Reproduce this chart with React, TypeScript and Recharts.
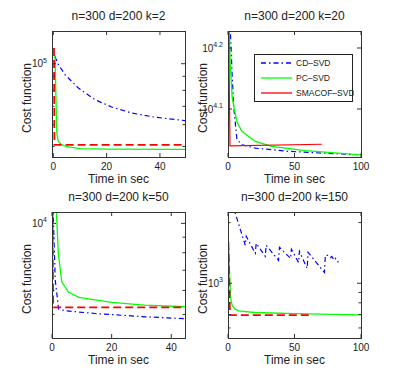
import { LineChart, Line, XAxis, YAxis } from "recharts";

const FONT = "'Liberation Sans', Arial, Helvetica, sans-serif";
const BLUE = "#0000ff";
const GREEN = "#00ff00";
const RED = "#ff0000";

// n=300 d=200 k=2
const k2CdTime = [0.6, 1.0, 1.9, 4.4, 9.4, 15.6, 21.9, 29.4, 38.1, 49.4];
const k2CdCost = [106400, 104000, 99200, 91200, 81600, 74000, 69600, 66200, 63900, 62100];
const k2PcTime = [0.6, 1.3, 1.8, 3, 5, 10, 20, 49.4];
const k2PcCost = [107800, 56000, 52300, 50900, 49900, 49100, 48900, 48800];
const k2SmTime = [0.25, 0.4, 49.4];
const k2SmCost = [114000, 50700, 50700];

// n=300 d=200 k=20
const k20CdTime = [1.5, 3.0, 4.3, 6.7, 10.5, 20.5, 45.5, 70.5, 100];
const k20CdCost = [17500, 14500, 12700, 11220, 11000, 10860, 10730, 10660, 10590];
const k20PcTime = [0.8, 1.6, 3.2, 6.7, 10.5, 20.5, 33, 58, 100];
const k20PcCost = [17500, 15000, 13100, 12000, 11570, 11140, 10930, 10760, 10590];
const k20SmTime = [0.4, 1.5, 70.5];
const k20SmCost = [17500, 10950, 11020];

// n=300 d=200 k=50
const k50CdTime = [0.3, 1.1, 1.7, 2.2, 4.5, 14.5, 31.3, 44.6];
const k50CdCost = [11500, 6470, 5770, 5210, 5140, 5035, 4910, 4840];
const k50PcTime = [1.3, 2.1, 2.8, 3.3, 5.5, 9, 20, 31, 44.6];
const k50PcCost = [12000, 8000, 7000, 6400, 5930, 5690, 5480, 5370, 5300];
const k50SmTime = [0.1, 0.4, 44.6];
const k50SmCost = [12000, 5275, 5275];

// n=300 d=200 k=150
const k150CdTime = [3.5, 13, 13.7, 20.5, 21.2, 28, 28.7, 38, 38.7, 47, 47.7, 53, 53.7, 59.5, 60.2, 72.5, 73.2, 75, 77, 78, 80, 81, 83];
const k150CdCost = [2446, 1544, 1712, 1408, 1579, 1360, 1544, 1299, 1508, 1329, 1474, 1269, 1440, 1184, 1424, 1131, 1376, 1376, 1340, 1360, 1300, 1330, 1269];
const k150PcTime = [0.5, 1.2, 2, 3.2, 5, 8, 20, 50, 100];
const k150PcCost = [1491, 1093, 838, 774, 747, 730, 716, 706, 697];
const k150SmTime = [0.3, 1.5, 62];
const k150SmCost = [1603, 695, 695];

const legendNames = ["CD\u2013SVD", "PC\u2013SVD", "SMACOF\u2013SVD"];

const YW = 50;
const XH = 30;
const MT = 5;
const MR = 20;
const PW = 133;
const PH = 126;
const AXIS = "#333";

type Pt = { t: number; v: number };
type Series = { data: Pt[]; color: string; width: number; dash?: string };
type Major = { value: number; exp: string };

const pts = (t: number[], v: number[]): Pt[] => t.map((x, i) => ({ t: x, v: v[i] }));

const cd = (t: number[], v: number[]): Series => ({ data: pts(t, v), color: BLUE, width: 1.2, dash: "5 3 1.5 3" });
const pc = (t: number[], v: number[]): Series => ({ data: pts(t, v), color: GREEN, width: 1.3 });
const smDashed = (t: number[], v: number[]): Series => ({ data: pts(t, v), color: RED, width: 1.8, dash: "8 4" });
const smSolid = (t: number[], v: number[]): Series => ({ data: pts(t, v), color: RED, width: 1.2 });

interface PanelProps {
  left: number;
  top: number;
  title: string;
  xDomain: [number, number];
  xTicks: number[];
  yDomain: [number, number];
  yMajor: Major[];
  yMinor: number[];
  series: Series[];
}

const textStyle = {
  position: "absolute" as const,
  height: 14,
  lineHeight: "14px",
  textAlign: "center" as const,
  fontFamily: FONT,
  fontSize: 12,
  color: "#222",
  whiteSpace: "nowrap" as const,
};

const Panel = ({ left, top, title, xDomain, xTicks, yDomain, yMajor, yMinor, series }: PanelProps) => {
  const yTicks = [...yMajor.map((m) => m.value), ...yMinor];

  const yTick = (p: any) => {
    const v = p.payload.value;
    const y = p.y;
    const major = yMajor.find((m) => Math.abs(m.value - v) < 1e-6 * v);
    const len = major ? 4 : 2.5;
    return (
      <g>
        <line x1={YW} x2={YW + len} y1={y} y2={y} stroke={AXIS} />
        <line x1={YW + PW - len} x2={YW + PW} y1={y} y2={y} stroke={AXIS} />
        {major && (
          <text x={YW - 5} y={y + 3.5} textAnchor="end" fontSize={10} fontFamily={FONT} fill="#222">
            10
            <tspan dy={-4.5} fontSize={7}>
              {major.exp}
            </tspan>
          </text>
        )}
      </g>
    );
  };

  const xTick = (p: any) => {
    const x = p.x;
    return (
      <g>
        <line x1={x} x2={x} y1={MT + PH} y2={MT + PH - 4} stroke={AXIS} />
        <line x1={x} x2={x} y1={MT} y2={MT + 4} stroke={AXIS} />
        <text x={x} y={MT + PH + 13} textAnchor="middle" fontSize={10} fontFamily={FONT} fill="#222">
          {p.payload.value}
        </text>
      </g>
    );
  };

  return (
    <>
      <div style={{ ...textStyle, left, top: top - 22, width: PW }}>{title}</div>
      <div style={{ ...textStyle, left: left - 25 - 60, top: top + PH / 2 + 4 - 7, width: 120, transform: "rotate(-90deg)" }}>
        Cost function
      </div>
      <div style={{ ...textStyle, left, top: top + PH + 15, width: PW }}>Time in sec</div>
      <div style={{ position: "absolute", left: left - YW, top: top - MT }}>
        <LineChart width={YW + PW + MR} height={MT + PH + XH} margin={{ top: MT, right: MR, bottom: 0, left: 0 }}>
          <XAxis
            dataKey="t"
            type="number"
            domain={xDomain}
            allowDataOverflow
            ticks={xTicks}
            interval={0}
            tick={xTick}
            tickLine={false}
            axisLine={false}
            height={XH}
          />
          <YAxis
            type="number"
            scale="log"
            domain={yDomain}
            allowDataOverflow
            ticks={yTicks}
            interval={0}
            tick={yTick}
            tickLine={false}
            axisLine={false}
            width={YW}
          />
          {series.map((s, i) => (
            <Line
              key={i}
              data={s.data}
              dataKey="v"
              type="linear"
              stroke={s.color}
              strokeWidth={s.width}
              strokeDasharray={s.dash}
              dot={false}
              activeDot={false}
              isAnimationActive={false}
            />
          ))}
        </LineChart>
      </div>
      <div
        style={{
          position: "absolute",
          left: left - 0.5,
          top: top - 0.5,
          width: PW + 1,
          height: PH + 1,
          border: `1px solid ${AXIS}`,
          boxSizing: "border-box",
          pointerEvents: "none",
        }}
      />
    </>
  );
};

const LegendBox = () => {
  const styles = [
    { color: BLUE, dash: "5 3 1.5 3" },
    { color: GREEN, dash: undefined },
    { color: RED, dash: undefined },
  ];
  return (
    <svg style={{ position: "absolute", left: 254, top: 54 }} width={100} height={49}>
      <rect x={0.5} y={0.5} width={98} height={47} fill="#fff" stroke="#222" />
      {legendNames.map((name, i) => {
        const y = 9 + i * 15;
        return (
          <g key={name}>
            <line x1={7} x2={38} y1={y} y2={y} stroke={styles[i].color} strokeWidth={1.3} strokeDasharray={styles[i].dash} />
            <text x={42} y={y + 3} fontSize={8.5} fontFamily={FONT} fill="#222">
              {name}
            </text>
          </g>
        );
      })}
    </svg>
  );
};

const App = () => {
  return (
    <div style={{ position: "absolute", left: 0, top: 0, width: 399, height: 381, background: "#fff", overflow: "hidden" }}>
      <Panel
        left={52}
        top={31}
        title="n=300 d=200 k=2"
        xDomain={[-0.5, 49.4]}
        xTicks={[0, 20, 40]}
        yDomain={[45790, 131500]}
        yMajor={[{ value: 100000, exp: "5" }]}
        yMinor={[90000, 80000, 70000, 60000, 50000]}
        series={[cd(k2CdTime, k2CdCost), pc(k2PcTime, k2PcCost), smDashed(k2SmTime, k2SmCost)]}
      />
      <Panel
        left={228}
        top={31}
        title="n=300 d=200 k=20"
        xDomain={[0, 100]}
        xTicks={[0, 50, 100]}
        yDomain={[10503, 16900]}
        yMajor={[
          { value: 12589.254, exp: "4.1" },
          { value: 15848.932, exp: "4.2" },
        ]}
        yMinor={[]}
        series={[cd(k20CdTime, k20CdCost), pc(k20PcTime, k20PcCost), smSolid(k20SmTime, k20SmCost)]}
      />
      <LegendBox />
      <Panel
        left={52}
        top={212}
        title="n=300 d=200 k=50"
        xDomain={[0, 44.6]}
        xTicks={[0, 20, 40]}
        yDomain={[4178, 10906]}
        yMajor={[{ value: 10000, exp: "4" }]}
        yMinor={[9000, 8000, 7000, 6000, 5000]}
        series={[cd(k50CdTime, k50CdCost), pc(k50PcTime, k50PcCost), smDashed(k50SmTime, k50SmCost)]}
      />
      <Panel
        left={228}
        top={212}
        title="n=300 d=200 k=150"
        xDomain={[0, 100]}
        xTicks={[0, 50, 100]}
        yDomain={[535, 2257]}
        yMajor={[{ value: 1000, exp: "3" }]}
        yMinor={[2000, 900, 800, 700, 600]}
        series={[cd(k150CdTime, k150CdCost), pc(k150PcTime, k150PcCost), smDashed(k150SmTime, k150SmCost)]}
      />
    </div>
  );
};

export default App;
